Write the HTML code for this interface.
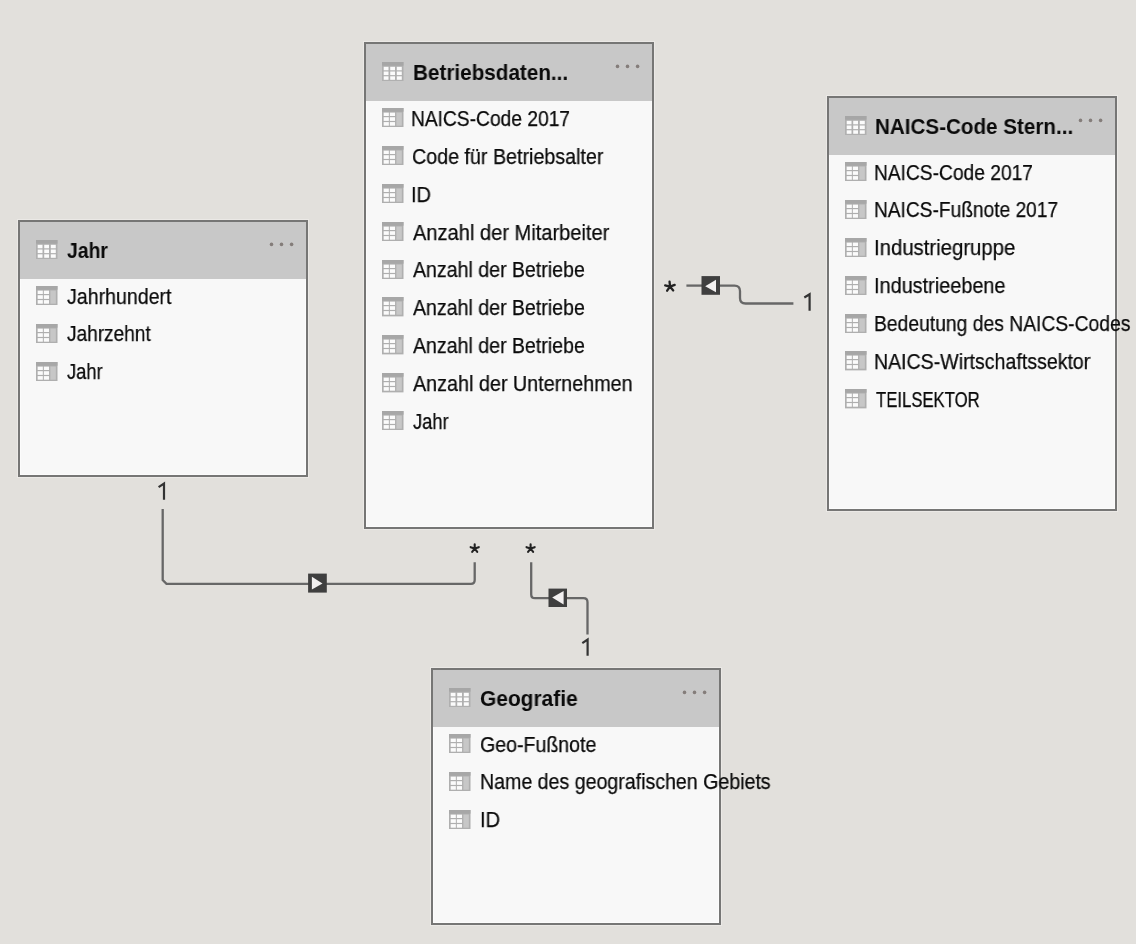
<!DOCTYPE html>
<html><head><meta charset="utf-8"><style>
html,body{margin:0;padding:0;}
body{width:1136px;height:944px;position:relative;overflow:hidden;background:#e2e0dc;font-family:"Liberation Sans",sans-serif;color:#0a0a0a;}
.t{position:absolute;box-sizing:border-box;border:2px solid #767675;background:#f8f8f8;box-shadow:0 0 0 1px rgba(255,255,255,0.3), inset 0 0 0 1px #fcfcfc;}
.h{position:absolute;left:0;top:0;right:0;height:57px;background:#c8c8c8;}
.ic{position:absolute;}
.tx{position:absolute;white-space:nowrap;font-size:21.5px;line-height:21.5px;transform-origin:0 0;color:#0a0a0a;will-change:transform;-webkit-text-stroke:0.25px #0a0a0a;}
.ht{position:absolute;white-space:nowrap;font-size:21.5px;line-height:21.5px;font-weight:bold;transform-origin:0 0;color:#0a0a0a;will-change:transform;}
.dot{position:absolute;width:4px;height:4px;border-radius:50%;background:#858080;}
svg.ov{position:absolute;left:0;top:0;}
</style></head><body>
<svg width="0" height="0" style="position:absolute"><defs>
<g id="ht"><rect x="0" y="0" width="21.5" height="19.4" fill="#b0b0b0"/><rect x="0" y="0" width="21.5" height="3.6" fill="#a6a6a6"/>
<g fill="#fbfbfb">
<rect x="1.7" y="4.8" width="4.8" height="3.5"/><rect x="8.2" y="4.8" width="4.8" height="3.5"/><rect x="14.8" y="4.8" width="5" height="3.5"/>
<rect x="1.7" y="9.5" width="4.8" height="3.6"/><rect x="8.2" y="9.5" width="4.8" height="3.6"/><rect x="14.8" y="9.5" width="5" height="3.6"/>
<rect x="1.7" y="14.3" width="4.8" height="3.5"/><rect x="8.2" y="14.3" width="4.8" height="3.5"/><rect x="14.8" y="14.3" width="5" height="3.5"/>
</g></g>
<g id="ft"><rect x="0" y="0" width="21.5" height="19.4" fill="#afafaf"/><rect x="0" y="0" width="21.5" height="3.7" fill="#a7a7a7"/>
<rect x="14.35" y="4.5" width="5.5" height="13.2" fill="#c7c7c7"/>
<g fill="#fbfbfb">
<rect x="1.65" y="4.6" width="5.2" height="3.4"/><rect x="7.85" y="4.6" width="5.2" height="3.4"/>
<rect x="1.65" y="9.2" width="5.2" height="3.7"/><rect x="7.85" y="9.2" width="5.2" height="3.7"/>
<rect x="1.65" y="14.1" width="5.2" height="3.6"/><rect x="7.85" y="14.1" width="5.2" height="3.6"/>
</g></g>
</defs></svg>

<div class="t" style="left:18px;top:220px;width:290px;height:257px"><div class="h"></div></div>
<svg class="ic" style="left:36px;top:239.8px" width="21.5" height="19.4" viewBox="0 0 21.5 19.4"><use href="#ht"/></svg>
<div class="ht" style="left:66.80px;top:240.70px;transform:scaleX(0.9000)">Jahr</div>
<svg class="ic" style="left:36px;top:286.0px" width="21.5" height="19.4" viewBox="0 0 21.5 19.4"><use href="#ft"/></svg>
<div class="tx" style="left:66.80px;top:286.50px;transform:scaleX(0.9104)">Jahrhundert</div>
<svg class="ic" style="left:36px;top:323.88px" width="21.5" height="19.4" viewBox="0 0 21.5 19.4"><use href="#ft"/></svg>
<div class="tx" style="left:66.80px;top:324.38px;transform:scaleX(0.8863)">Jahrzehnt</div>
<svg class="ic" style="left:36px;top:361.76px" width="21.5" height="19.4" viewBox="0 0 21.5 19.4"><use href="#ft"/></svg>
<div class="tx" style="left:66.80px;top:362.26px;transform:scaleX(0.8500)">Jahr</div>
<div class="t" style="left:364px;top:42px;width:290px;height:487px"><div class="h"></div></div>
<svg class="ic" style="left:382px;top:61.8px" width="21.5" height="19.4" viewBox="0 0 21.5 19.4"><use href="#ht"/></svg>
<div class="ht" style="left:412.54px;top:62.60px;transform:scaleX(0.9623)">Betriebsdaten...</div>
<svg class="ic" style="left:382px;top:108.0px" width="21.5" height="19.4" viewBox="0 0 21.5 19.4"><use href="#ft"/></svg>
<div class="tx" style="left:411.31px;top:108.90px;transform:scaleX(0.8931)">NAICS-Code 2017</div>
<svg class="ic" style="left:382px;top:145.88px" width="21.5" height="19.4" viewBox="0 0 21.5 19.4"><use href="#ft"/></svg>
<div class="tx" style="left:411.88px;top:146.78px;transform:scaleX(0.9154)">Code für Betriebsalter</div>
<svg class="ic" style="left:382px;top:183.76px" width="21.5" height="19.4" viewBox="0 0 21.5 19.4"><use href="#ft"/></svg>
<div class="tx" style="left:411.45px;top:184.66px;transform:scaleX(0.9263)">ID</div>
<svg class="ic" style="left:382px;top:221.64000000000001px" width="21.5" height="19.4" viewBox="0 0 21.5 19.4"><use href="#ft"/></svg>
<div class="tx" style="left:412.50px;top:222.54px;transform:scaleX(0.9333)">Anzahl der Mitarbeiter</div>
<svg class="ic" style="left:382px;top:259.52px" width="21.5" height="19.4" viewBox="0 0 21.5 19.4"><use href="#ft"/></svg>
<div class="tx" style="left:412.60px;top:260.42px;transform:scaleX(0.9096)">Anzahl der Betriebe</div>
<svg class="ic" style="left:382px;top:297.4px" width="21.5" height="19.4" viewBox="0 0 21.5 19.4"><use href="#ft"/></svg>
<div class="tx" style="left:412.60px;top:298.30px;transform:scaleX(0.9096)">Anzahl der Betriebe</div>
<svg class="ic" style="left:382px;top:335.28000000000003px" width="21.5" height="19.4" viewBox="0 0 21.5 19.4"><use href="#ft"/></svg>
<div class="tx" style="left:412.60px;top:336.18px;transform:scaleX(0.9096)">Anzahl der Betriebe</div>
<svg class="ic" style="left:382px;top:373.16px" width="21.5" height="19.4" viewBox="0 0 21.5 19.4"><use href="#ft"/></svg>
<div class="tx" style="left:412.60px;top:374.06px;transform:scaleX(0.9189)">Anzahl der Unternehmen</div>
<svg class="ic" style="left:382px;top:411.04px" width="21.5" height="19.4" viewBox="0 0 21.5 19.4"><use href="#ft"/></svg>
<div class="tx" style="left:412.80px;top:411.94px;transform:scaleX(0.8500)">Jahr</div>
<div class="t" style="left:827px;top:96px;width:290px;height:415px"><div class="h"></div></div>
<svg class="ic" style="left:845px;top:115.8px" width="21.5" height="19.4" viewBox="0 0 21.5 19.4"><use href="#ht"/></svg>
<div class="ht" style="left:875.04px;top:116.60px;transform:scaleX(0.9590)">NAICS-Code Stern...</div>
<svg class="ic" style="left:845px;top:162.0px" width="21.5" height="19.4" viewBox="0 0 21.5 19.4"><use href="#ft"/></svg>
<div class="tx" style="left:874.31px;top:162.60px;transform:scaleX(0.8926)">NAICS-Code 2017</div>
<svg class="ic" style="left:845px;top:199.88px" width="21.5" height="19.4" viewBox="0 0 21.5 19.4"><use href="#ft"/></svg>
<div class="tx" style="left:874.32px;top:200.48px;transform:scaleX(0.8907)">NAICS-Fußnote 2017</div>
<svg class="ic" style="left:845px;top:237.76px" width="21.5" height="19.4" viewBox="0 0 21.5 19.4"><use href="#ft"/></svg>
<div class="tx" style="left:874.21px;top:238.36px;transform:scaleX(0.9456)">Industriegruppe</div>
<svg class="ic" style="left:845px;top:275.64px" width="21.5" height="19.4" viewBox="0 0 21.5 19.4"><use href="#ft"/></svg>
<div class="tx" style="left:874.25px;top:276.24px;transform:scaleX(0.9243)">Industrieebene</div>
<svg class="ic" style="left:845px;top:313.52px" width="21.5" height="19.4" viewBox="0 0 21.5 19.4"><use href="#ft"/></svg>
<div class="tx" style="left:873.90px;top:314.12px;transform:scaleX(0.8975)">Bedeutung des NAICS-Codes</div>
<svg class="ic" style="left:845px;top:351.4px" width="21.5" height="19.4" viewBox="0 0 21.5 19.4"><use href="#ft"/></svg>
<div class="tx" style="left:873.88px;top:352.00px;transform:scaleX(0.9097)">NAICS-Wirtschaftssektor</div>
<svg class="ic" style="left:845px;top:389.28000000000003px" width="21.5" height="19.4" viewBox="0 0 21.5 19.4"><use href="#ft"/></svg>
<div class="tx" style="left:875.70px;top:389.88px;transform:scaleX(0.7767)">TEILSEKTOR</div>
<div class="t" style="left:431px;top:668px;width:290px;height:257px"><div class="h"></div></div>
<svg class="ic" style="left:449px;top:687.8px" width="21.5" height="19.4" viewBox="0 0 21.5 19.4"><use href="#ht"/></svg>
<div class="ht" style="left:479.93px;top:689.00px;transform:scaleX(0.9727)">Geografie</div>
<svg class="ic" style="left:449px;top:734.0px" width="21.5" height="19.4" viewBox="0 0 21.5 19.4"><use href="#ft"/></svg>
<div class="tx" style="left:479.89px;top:734.50px;transform:scaleX(0.9095)">Geo-Fußnote</div>
<svg class="ic" style="left:449px;top:771.88px" width="21.5" height="19.4" viewBox="0 0 21.5 19.4"><use href="#ft"/></svg>
<div class="tx" style="left:479.88px;top:772.38px;transform:scaleX(0.9107)">Name des geografischen Gebiets</div>
<svg class="ic" style="left:449px;top:809.76px" width="21.5" height="19.4" viewBox="0 0 21.5 19.4"><use href="#ft"/></svg>
<div class="tx" style="left:480.04px;top:810.26px;transform:scaleX(0.9316)">ID</div>
<svg class="ov" width="1136" height="944" viewBox="0 0 1136 944">
<g fill="none" stroke="#676767" stroke-width="2.3">
<path d="M162.7 509 V580 L166.5 583.9 H471 Q474.7 583.9 474.7 580 V562.3"/>
<path d="M531.2 562.3 V594.5 Q531.2 598.2 535 598.2 H549"/>
<path d="M567 598.2 H583.5 Q587.5 598.2 587.5 602.2 V634.5"/>
<path d="M686.4 285.6 H702"/>
<path d="M720 285.6 H734.5 Q740 285.6 740 291.1 V298 Q740 303.5 745.5 303.5 H793.4"/>
</g>
<g fill="#3f3f3f">
<rect x="308.1" y="573.6" width="18.7" height="19"/>
<rect x="548.5" y="588.6" width="18.5" height="18.4"/>
<rect x="701.5" y="276.1" width="18.5" height="18.7"/>
</g>
<g fill="#f2f0f0">
<path d="M311.9 576.8 L322.5 583.5 L311.9 589.6 Z"/>
<path d="M552.2 597.6 L563.6 591 L563.6 604.5 Z"/>
<path d="M705.2 286.2 L716 279.7 L716 292.3 Z"/>
</g>
<g fill="none" stroke="#333" stroke-linecap="butt">
<path d="M158.6 487.2 L164 483.6 V499.8" stroke-width="2.2"/><path d="M582.3 643.1 L587.6 639.5 V655.8" stroke-width="2.2"/><path d="M804.3 297.5 L809.6 294.3 V310.8" stroke-width="2.2"/>
</g>
<g fill="#847d7a"><circle cx="271.5" cy="244.4" r="1.8"/><circle cx="281.5" cy="244.4" r="1.8"/><circle cx="291.6" cy="244.4" r="1.8"/><circle cx="617.5" cy="66.4" r="1.8"/><circle cx="627.5" cy="66.4" r="1.8"/><circle cx="637.6" cy="66.4" r="1.8"/><circle cx="1080.5" cy="120.4" r="1.8"/><circle cx="1090.5" cy="120.4" r="1.8"/><circle cx="1100.6" cy="120.4" r="1.8"/><circle cx="684.5" cy="692.4" r="1.8"/><circle cx="694.5" cy="692.4" r="1.8"/><circle cx="704.6" cy="692.4" r="1.8"/></g>
<g fill="none" stroke="#222">
<path d="M670.00 286.60 L669.56 281.62 M670.00 286.60 L674.70 284.89 M670.00 286.60 L673.21 290.43 M670.00 286.60 L667.13 290.70 M670.00 286.60 L665.17 285.31 " stroke-width="2.3" stroke-linecap="round"/><path d="M474.70 548.50 L474.70 544.20 M474.70 548.50 L478.79 547.17 M474.70 548.50 L477.23 551.98 M474.70 548.50 L472.17 551.98 M474.70 548.50 L470.61 547.17 " stroke-width="2.1" stroke-linecap="round"/><path d="M530.60 548.50 L530.60 544.20 M530.60 548.50 L534.69 547.17 M530.60 548.50 L533.13 551.98 M530.60 548.50 L528.07 551.98 M530.60 548.50 L526.51 547.17 " stroke-width="2.1" stroke-linecap="round"/>
</g>
</svg>
</body></html>
